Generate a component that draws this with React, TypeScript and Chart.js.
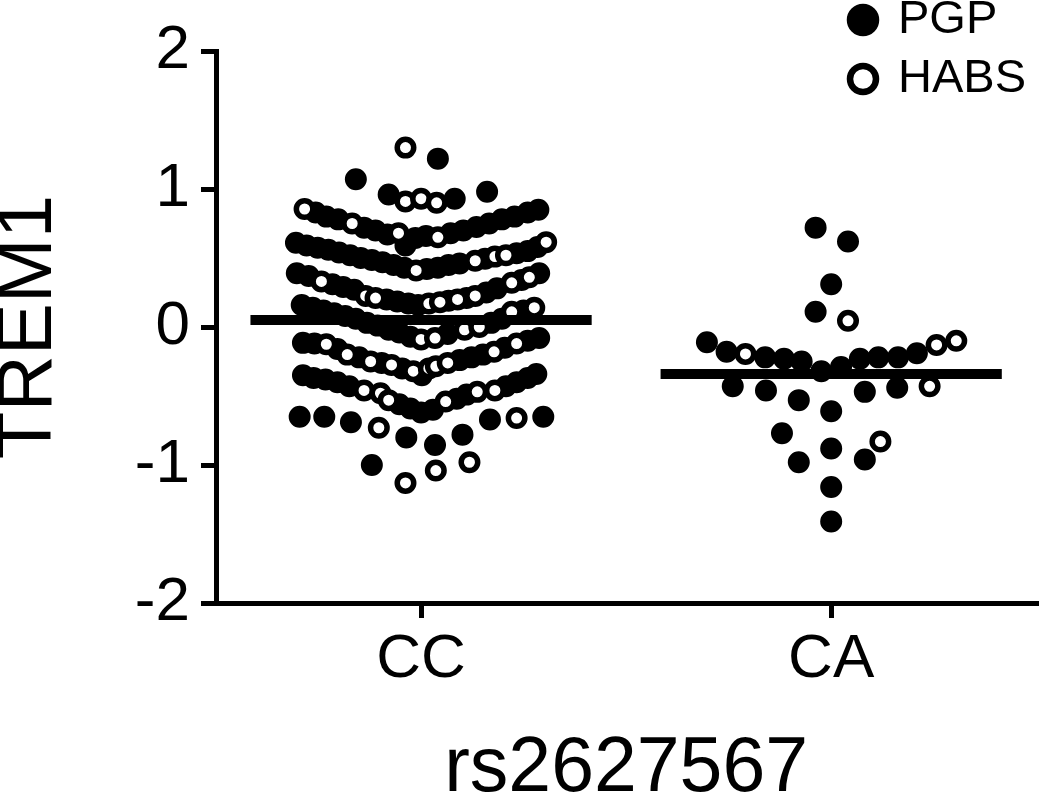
import { useEffect, useRef } from "react";
import { Chart, registerables } from "chart.js";

Chart.register(...registerables);

const FONT = "'Liberation Sans', Arial, Helvetica, sans-serif";

// Categories (genotypes of rs2627567) and their positions on the x scale
const categories = ["CC", "CA"];
const catPositions = [0, 100];
const xTitle = "rs2627567";
const yTitle = "TREM1";
const yTicks = [-2, -1, 0, 1, 2];
const yTickLabels = ["-2", "-1", "0", "1", "2"];
const seriesNames = ["PGP", "HABS"];

// Group means (horizontal bars)
const groupMeans = [0.05, -0.34];
const meanHalfWidth = 41.6;

// CC group, PGP (filled) — x is horizontal scatter offset within the column, y is TREM1
const ccPgpX = [
  4.1, -15.9, -7.9, 8.2, 16.1,
  -25.7, -23.1, -20.2, -13.9, -11.1, -8.2, -3.8, -1.4, 1.2, 7.2, 10.3, 13.5, 16.6, 19.7, 22.8, 26.0, 28.6,
  -30.5, -27.9, -25.2, -22.6, -20.0, -17.3, -14.7, -12.0, -9.4, -6.7, -4.1, 1.4, 4.1, 6.7, 9.4, 15.6, 23.3, 26.0, 28.4,
  -30.3, -27.4, -21.6, -19.0, -16.3, -8.4, -5.8, -3.1, -0.7, 6.7, 11.1, 15.9, 18.5, 24.5, 28.8,
  -29.1, -26.4, -23.8, -21.2, -18.5, -15.9, -13.2, -10.6, -7.9, -5.3, -2.6, 6.5, 17.1, 19.7, 25.0,
  -28.8, -26.0, -20.4, -15.1, -9.6, -4.6, 0.2, 9.4, 12.3, 15.1, 20.4, 26.0, 28.8,
  -28.8, -26.2, -23.3, -20.4, -17.5, -5.3, -2.6, 0, 2.9, 8.7, 11.1, 20.7, 23.3, 26.0, 28.1,
  -29.6, -23.6, -17.1, -3.6, 3.4, 10.1, 16.8, 29.8, -12.0,
];
const ccPgpY = [
  1.22, 1.07, 0.96, 0.93, 0.98,
  0.83, 0.80, 0.78, 0.72, 0.70, 0.67, 0.59, 0.645, 0.66, 0.68, 0.70, 0.725, 0.75, 0.78, 0.80, 0.83, 0.85,
  0.61, 0.59, 0.575, 0.56, 0.54, 0.52, 0.50, 0.485, 0.47, 0.45, 0.43, 0.42, 0.43, 0.45, 0.46, 0.495, 0.535, 0.55, 0.58,
  0.39, 0.37, 0.31, 0.29, 0.27, 0.20, 0.185, 0.17, 0.16, 0.19, 0.21, 0.25, 0.28, 0.34, 0.39,
  0.16, 0.14, 0.12, 0.10, 0.08, 0.06, 0.03, 0.01, -0.02, -0.04, -0.07, -0.05, 0.03, 0.06, 0.12,
  -0.115, -0.12, -0.16, -0.22, -0.26, -0.30, -0.35, -0.24, -0.22, -0.20, -0.15, -0.10, -0.08,
  -0.35, -0.37, -0.38, -0.40, -0.43, -0.56, -0.59, -0.62, -0.60, -0.52, -0.49, -0.43, -0.40, -0.37, -0.34,
  -0.65, -0.65, -0.69, -0.80, -0.855, -0.78, -0.67, -0.65, -1.00,
];

// CC group, HABS (open)
const ccHabsX = [
  -3.8, -3.8, 0, 3.8,
  -28.4, -16.8, -5.5, 4.1,
  -1.2, 13.2, 18.0, 20.7, 30.5,
  -24.3, -13.5, -11.1, 1.9, 4.6, 8.9, 13.2, 22.1, 26.4,
  0, 3.4, 10.6, 14.2, 22.1, 27.6,
  -23.1, -18.0, -12.3, -7.2, -1.9, 1.9, 3.6, 6.5, 17.8, 23.3,
  -13.9, -9.9, -7.9, 6.0, 13.7, 18.0,
  -10.3, 23.3, -3.8, 3.6, 11.8,
];
const ccHabsY = [
  1.30, 0.91, 0.93, 0.90,
  0.855, 0.75, 0.68, 0.65,
  0.41, 0.48, 0.51, 0.52, 0.615,
  0.33, 0.225, 0.21, 0.17, 0.18, 0.20, 0.225, 0.32, 0.36,
  -0.09, -0.08, -0.02, 0.0, 0.11, 0.14,
  -0.125, -0.20, -0.25, -0.275, -0.32, -0.30, -0.285, -0.26, -0.18, -0.12,
  -0.46, -0.48, -0.53, -0.54, -0.47, -0.46,
  -0.73, -0.66, -1.13, -1.04, -0.98,
];

// CA group, PGP (filled)
const caPgpX = [
  -3.8, 4.1, 0, -3.8,
  -30.3, -25.5, -16.1, -11.5, -7.2, -2.4, 2.4, 7.0, 11.5, 16.3, 20.9,
  -24.0, -15.9, -7.9, 0, 8.2, 16.1,
  -12.0, -7.9, 0, 8.2, 0, 0,
];
const caPgpY = [
  0.72, 0.62, 0.31, 0.11,
  -0.11, -0.18, -0.22, -0.23, -0.25, -0.32, -0.29, -0.23, -0.22, -0.22, -0.19,
  -0.43, -0.46, -0.53, -0.61, -0.47, -0.44,
  -0.77, -0.98, -0.88, -0.96, -1.16, -1.41,
];

// CA group, HABS (open)
const caHabsX = [4.1, -20.9, 25.7, 30.5, 24.0, 12.0];
const caHabsY = [0.045, -0.195, -0.13, -0.10, -0.43, -0.83];

const toPoints = (catIndex: number, xs: number[], ys: number[]) =>
  xs.map((dx, i) => ({ x: catPositions[catIndex] + dx, y: ys[i] }));

const stackedLegend = {
  id: "stackedLegend",
  afterDraw(chart: any, _args: any, opts: any) {
    const ctx = chart.ctx as CanvasRenderingContext2D;
    const items = chart.data.datasets.filter((d: any) => d.label);
    ctx.save();
    items.forEach((d: any, i: number) => {
      const y = opts.y0 + i * opts.dy;
      ctx.beginPath();
      ctx.arc(opts.x, y, opts.radius, 0, Math.PI * 2);
      ctx.fillStyle = d.backgroundColor;
      ctx.fill();
      ctx.lineWidth = opts.lineWidth;
      ctx.strokeStyle = d.borderColor;
      ctx.stroke();
      ctx.fillStyle = "#000";
      ctx.font = `${opts.fontSize}px ${FONT}`;
      ctx.textAlign = "left";
      ctx.textBaseline = "middle";
      ctx.fillText(d.label, opts.textX, y);
    });
    ctx.restore();
  },
};

export default function App() {
  const canvasRef = useRef<HTMLCanvasElement | null>(null);

  useEffect(() => {
    if (!canvasRef.current) return;
    const pointStyle = { radius: 8.25, borderWidth: 5.5, hoverRadius: 8.25 };
    const chart = new Chart(canvasRef.current, {
      type: "scatter",
      data: {
        datasets: [
          ...groupMeans.map((m, i) => ({
            label: "",
            data: [
              { x: catPositions[i] - meanHalfWidth, y: m },
              { x: catPositions[i] + meanHalfWidth, y: m },
            ],
            showLine: true,
            borderColor: "#000",
            backgroundColor: "#000",
            borderWidth: 10,
            borderCapStyle: "butt",
            pointRadius: 0,
            order: 1,
          })),
          {
            label: seriesNames[0],
            data: [...toPoints(0, ccPgpX, ccPgpY), ...toPoints(1, caPgpX, caPgpY)],
            backgroundColor: "#000",
            borderColor: "#000",
            ...pointStyle,
            order: 3,
          },
          {
            label: seriesNames[1],
            data: [...toPoints(0, ccHabsX, ccHabsY), ...toPoints(1, caHabsX, caHabsY)],
            backgroundColor: "#fff",
            borderColor: "#000",
            ...pointStyle,
            order: 2,
          },
        ] as any,
      },
      options: {
        animation: false,
        responsive: true,
        maintainAspectRatio: false,
        layout: { padding: { top: 51, right: 2, left: 0, bottom: 0 } },
        plugins: {
          legend: { display: false },
          tooltip: { enabled: false },
          stackedLegend: {
            x: 863,
            textX: 898,
            y0: 20,
            dy: 59,
            radius: 13,
            lineWidth: 6.5,
            fontSize: 47,
          },
        } as any,
        scales: {
          x: {
            type: "linear",
            min: -50,
            max: 150,
            afterBuildTicks: (s: any) => {
              s.ticks = catPositions.map((v) => ({ value: v }));
            },
            afterFit: (s: any) => {
              s.height = 194;
            },
            ticks: {
              autoSkip: false,
              maxRotation: 0,
              padding: 11,
              color: "#000",
              font: { family: FONT, size: 62, lineHeight: 1 },
              callback: (v: any) => {
                const i = catPositions.indexOf(Number(v));
                return i >= 0 ? categories[i] : "";
              },
            },
            grid: {
              display: true,
              drawOnChartArea: false,
              drawTicks: true,
              tickLength: 15,
              tickWidth: 5,
              lineWidth: 5,
              tickColor: "#000",
              color: "#000",
            },
            border: { display: true, color: "#000", width: 5 },
            title: {
              display: true,
              text: xTitle,
              color: "#000",
              font: { family: FONT, size: 77, lineHeight: 0.7 },
              padding: { top: 0, bottom: 0 },
            },
          },
          y: {
            min: -2,
            max: 2,
            afterBuildTicks: (s: any) => {
              s.ticks = yTicks.map((v) => ({ value: v }));
            },
            afterFit: (s: any) => {
              s.width = 216;
            },
            ticks: {
              padding: 11,
              color: "#000",
              font: { family: FONT, size: 62, lineHeight: 1 },
              callback: (v: any) => {
                const i = yTicks.indexOf(Number(v));
                return i >= 0 ? yTickLabels[i] : "";
              },
            },
            grid: {
              display: true,
              drawOnChartArea: false,
              drawTicks: true,
              tickLength: 15,
              tickWidth: 5,
              lineWidth: 5,
              tickColor: "#000",
              color: "#000",
            },
            border: { display: true, color: "#000", width: 5 },
            title: {
              display: true,
              text: yTitle,
              color: "#000",
              font: { family: FONT, size: 78, lineHeight: 0.7 },
              padding: { top: 2, bottom: 0 },
            },
          },
        },
      },
      plugins: [stackedLegend],
    });
    return () => chart.destroy();
  }, []);

  return (
    <div style={{ position: "absolute", left: 0, top: 0, width: 1050, height: 797, background: "#fff" }}>
      <canvas ref={canvasRef} />
    </div>
  );
}
